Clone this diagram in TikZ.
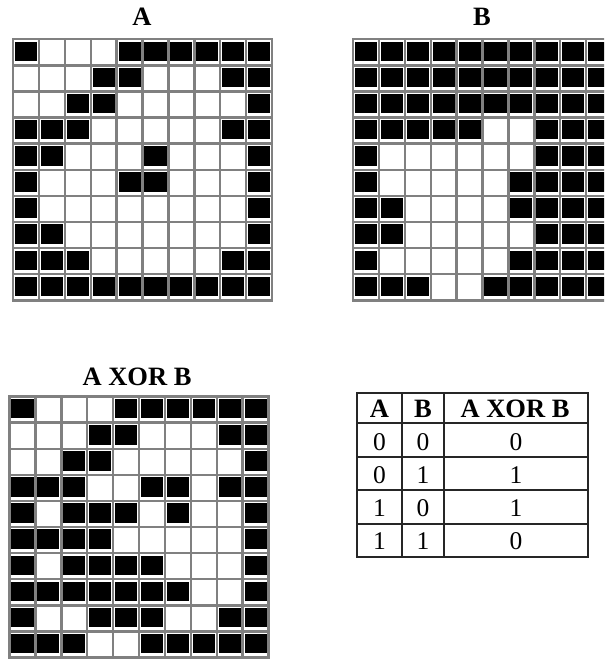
\documentclass[tikz,border=0pt]{standalone}
\usepackage{fontspec}
\setmainfont{Liberation Serif}
\def\cellw{25.9}
\def\cellh{26.1}
\newcommand\pixgrid[3]{%
  \begin{scope}[shift={(#1,#2)}]
    \foreach \rw [count=\r from 0] in {#3} {
      \foreach \v [count=\c from 0] in \rw {
        \ifnum\v=1
          \fill[cellblack] (\c*\cellw+1.9, \r*\cellh+2.4) rectangle (\c*\cellw+\cellw-1.9, \r*\cellh+\cellh-4.2);
        \fi
      }
    }
    \foreach \k in {0,...,10} {
      \draw[gridline] (\k*\cellw,0) -- (\k*\cellw,10*\cellh);
      \draw[gridline] (0,\k*\cellh) -- (10*\cellw,\k*\cellh);
    }
  \end{scope}}
\begin{document}
\begin{tikzpicture}[x=1pt,y=-1pt,
  cellblack/.style={fill=black},
  gridline/.style={draw=black!50, line width=2.4pt, line cap=rect},
  title/.style={anchor=base, inner sep=0pt, font=\fontsize{26.5}{26.5}\selectfont\bfseries},
  tabhead/.style={anchor=base, inner sep=0pt, font=\fontsize{26.5}{26.5}\selectfont\bfseries},
  tabtxt/.style={anchor=base, inner sep=0pt, font=\fontsize{25.5}{25.5}\selectfont},
  tabline/.style={draw=black!85, line width=1.6pt}]
\path[use as bounding box] (0,0) rectangle (604,660);
\clip (0,0) rectangle (604,660);
\fill[white] (0,0) rectangle (604,660);

% titles
\node[title] (tA) at (142,26) {A};
\node[title] (tB) at (482,26) {B};
\node[title] (tX) at (137,385) {A XOR B};

% grid A
\pixgrid{13}{39.3}{
{1,0,0,0,1,1,1,1,1,1},
{0,0,0,1,1,0,0,0,1,1},
{0,0,1,1,0,0,0,0,0,1},
{1,1,1,0,0,0,0,0,1,1},
{1,1,0,0,0,1,0,0,0,1},
{1,0,0,0,1,1,0,0,0,1},
{1,0,0,0,0,0,0,0,0,1},
{1,1,0,0,0,0,0,0,0,1},
{1,1,1,0,0,0,0,0,1,1},
{1,1,1,1,1,1,1,1,1,1}}

% grid B
\pixgrid{353}{39.3}{
{1,1,1,1,1,1,1,1,1,1},
{1,1,1,1,1,1,1,1,1,1},
{1,1,1,1,1,1,1,1,1,1},
{1,1,1,1,1,0,0,1,1,1},
{1,0,0,0,0,0,0,1,1,1},
{1,0,0,0,0,0,1,1,1,1},
{1,1,0,0,0,0,1,1,1,1},
{1,1,0,0,0,0,0,1,1,1},
{1,0,0,0,0,0,1,1,1,1},
{1,1,1,0,0,1,1,1,1,1}}

% grid A XOR B
\pixgrid{9.5}{396.5}{
{1,0,0,0,1,1,1,1,1,1},
{0,0,0,1,1,0,0,0,1,1},
{0,0,1,1,0,0,0,0,0,1},
{1,1,1,0,0,1,1,0,1,1},
{1,0,1,1,1,0,1,0,0,1},
{1,1,1,1,0,0,0,0,0,1},
{1,0,1,1,1,1,0,0,0,1},
{1,1,1,1,1,1,1,0,0,1},
{1,0,0,1,1,1,0,0,1,1},
{1,1,1,0,0,1,1,1,1,1}}

% truth table
\coordinate (tl) at (357,393);
\coordinate (br) at (588,557);
\draw[tabline] (tl) rectangle (br);
\foreach \yy in {423,457,490,524} { \draw[tabline] (357,\yy) -- (588,\yy); }
\foreach \xx in {402,444} { \draw[tabline] (\xx,393) -- (\xx,557); }

\node[tabhead] (hA) at (379.5,417.3) {A};
\node[tabhead] (hB) at (423,417.3) {B};
\node[tabhead] (hX) at (515,417.3) {A XOR B};

\node[tabtxt] (a1) at (379.5,450) {0};
\node[tabtxt] (b1) at (423,450) {0};
\node[tabtxt] (x1) at (516,450) {0};
\node[tabtxt] (a2) at (379.5,483.5) {0};
\node[tabtxt] (b2) at (423,483.5) {1};
\node[tabtxt] (x2) at (516,483.5) {1};
\node[tabtxt] (a3) at (379.5,516.8) {1};
\node[tabtxt] (b3) at (423,516.8) {0};
\node[tabtxt] (x3) at (516,516.8) {1};
\node[tabtxt] (a4) at (379.5,549.5) {1};
\node[tabtxt] (b4) at (423,549.5) {1};
\node[tabtxt] (x4) at (516,549.5) {0};
\end{tikzpicture}
\end{document}
